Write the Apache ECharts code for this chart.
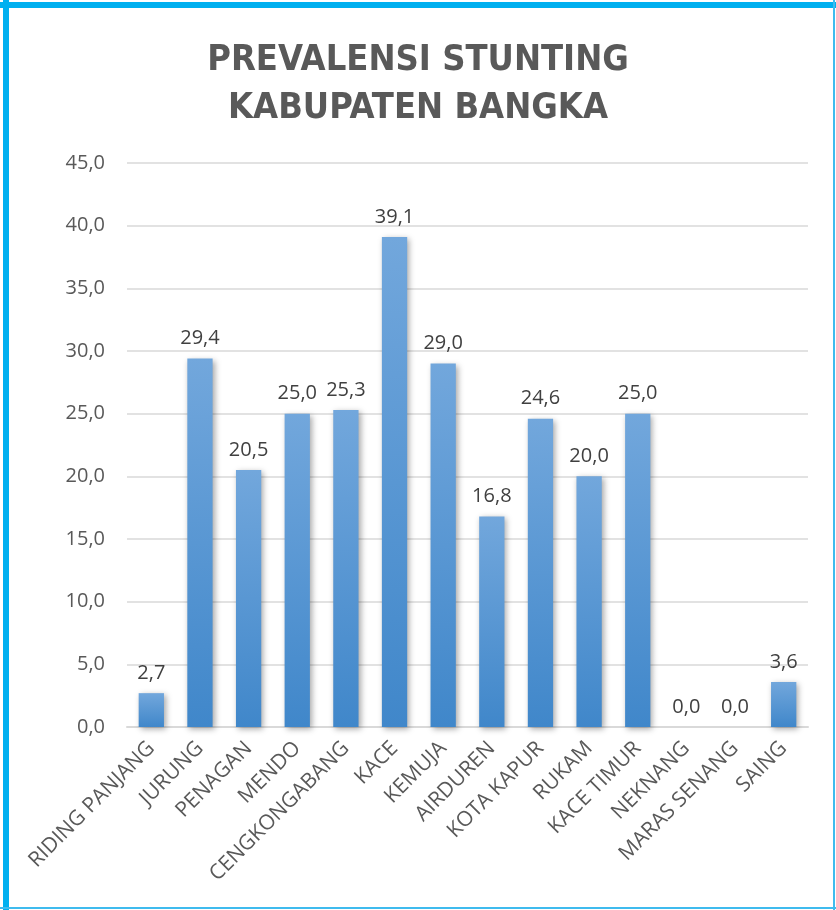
<!DOCTYPE html>
<html>
<head>
<meta charset="utf-8">
<script src="https://cdn.jsdelivr.net/npm/echarts@6/dist/echarts.min.js"></script>
<style>
  html, body { margin: 0; padding: 0; background: #fff; }
  #chart { width: 836px; height: 910px; }
</style>
</head>
<body>
<div id="chart"></div>
<script>
// data
var kecamatan = ['RIDING PANJANG', 'JURUNG', 'PENAGAN', 'MENDO', 'CENGKONGABANG', 'KACE', 'KEMUJA',
  'AIRDUREN', 'KOTA KAPUR', 'RUKAM', 'KACE TIMUR', 'NEKNANG', 'MARAS SENANG', 'SAING'];
var prevalensi = [2.7, 29.4, 20.5, 25.0, 25.3, 39.1, 29.0, 16.8, 24.6, 20.0, 25.0, 0.0, 0.0, 3.6];

function fmt(v) {
  return Number(v).toFixed(1).replace('.', ',');
}

var myChart = echarts.init(document.getElementById('chart'));

var option = {
  backgroundColor: '#fff',
  animation: false,
  title: {
    text: 'PREVALENSI STUNTING\nKABUPATEN BANGKA',
    left: 'center',
    top: 32,
    textStyle: {
      fontFamily: '"DejaVu Sans Condensed", "Open Sans", sans-serif',
      fontSize: 36,
      fontWeight: 'bold',
      color: '#595959',
      lineHeight: 48
    }
  },
  grid: {
    left: 127,
    right: 28,
    top: 163,
    bottom: 183
  },
  xAxis: {
    type: 'category',
    data: kecamatan,
    axisTick: { show: false },
    axisLine: { lineStyle: { color: '#d9d9d9', width: 2 } },
    axisLabel: {
      rotate: 45,
      margin: 18,
      fontFamily: '"Open Sans", sans-serif',
      fontSize: 21,
      color: '#595959',
      interval: 0
    }
  },
  yAxis: {
    type: 'value',
    min: 0,
    max: 45,
    interval: 5,
    axisLine: { show: false },
    axisTick: { show: false },
    splitLine: { lineStyle: { color: '#d9d9d9', width: 1.5 } },
    axisLabel: {
      margin: 22,
      fontFamily: '"Open Sans", sans-serif',
      fontSize: 20,
      color: '#595959',
      formatter: fmt
    }
  },
  series: [{
    type: 'bar',
    data: prevalensi,
    barWidth: '52%',
    itemStyle: {
      color: new echarts.graphic.LinearGradient(0, 0, 0, 1, [
        { offset: 0, color: '#72a7dc' },
        { offset: 1, color: '#4087ca' }
      ]),
      shadowColor: 'rgba(0,0,0,0.35)',
      shadowBlur: 6,
      shadowOffsetX: 2,
      shadowOffsetY: 2
    },
    label: {
      show: true,
      position: 'top',
      distance: 10,
      fontFamily: '"Open Sans", sans-serif',
      fontSize: 20,
      color: '#404040',
      formatter: function (p) { return fmt(p.value); }
    }
  }],
  graphic: [
    { type: 'line', shape: { x1: 0, y1: 5, x2: 836, y2: 5 }, style: { stroke: '#00b0f0', lineWidth: 6 } },
    { type: 'line', shape: { x1: 6, y1: 0, x2: 6, y2: 910 }, style: { stroke: '#00b0f0', lineWidth: 6 } },
    { type: 'line', shape: { x1: 834, y1: 0, x2: 834, y2: 910 }, style: { stroke: '#3fbbee', lineWidth: 2 } },
    { type: 'line', shape: { x1: 0, y1: 908, x2: 836, y2: 908 }, style: { stroke: '#3fbbee', lineWidth: 2 } }
  ]
};

myChart.setOption(option);
</script>
</body>
</html>
